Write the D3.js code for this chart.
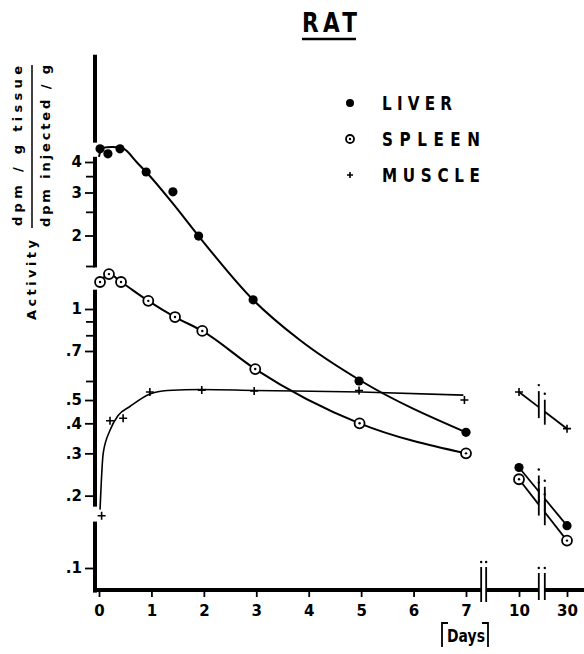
<!DOCTYPE html>
<html>
<head>
<meta charset="utf-8">
<script src="https://cdn.jsdelivr.net/npm/d3@7"></script>
<style>
  body { margin: 0; background: #fff; }
  text { font-family: "DejaVu Sans", sans-serif; font-weight: bold; fill: #000; }
</style>
</head>
<body>
<svg id="chart" width="584" height="654"></svg>
<script>
// ticks
const dayTicks = [0, 1, 2, 3, 4, 5, 6, 7, 10, 30];
const valueTicks = [4, 3, 2, 1, 0.7, 0.5, 0.4, 0.3, 0.2, 0.1];
const minorTicks = [3.5, 2.5, 1.5, 0.9, 0.8, 0.6];

// measured points
const liverDays = [0.02, 0.17, 0.4, 0.9, 1.41, 1.9, 2.94, 4.96, 7.0, 10, 30];
const liverValues = [4.53, 4.32, 4.53, 3.64, 3.02, 1.99, 1.09, 0.6, 0.367, 0.262, 0.15];

const spleenDays = [0.02, 0.19, 0.42, 0.94, 1.45, 1.97, 2.98, 4.97, 7.0, 10, 30];
const spleenValues = [1.29, 1.39, 1.29, 1.08, 0.934, 0.83, 0.638, 0.4, 0.3, 0.234, 0.13];

const muscleDays = [0.05, 0.21, 0.46, 0.97, 1.96, 2.96, 4.96, 6.97, 10, 30];
const muscleValues = [0.165, 0.41, 0.42, 0.54, 0.55, 0.545, 0.548, 0.5, 0.54, 0.38];

// hand drawn curves (days 0-7)
const liverCurveDays = [0, 0.05, 0.25, 0.45, 0.73, 0.9, 1.4, 1.9, 2.94, 3.83, 5, 7];
const liverCurveValues = [4.2, 4.57, 4.61, 4.55, 3.97, 3.64, 2.72, 1.99, 1.09, 0.768, 0.6, 0.367];

const muscleCurveDays = [0.02, 0.08, 0.21, 0.36, 0.59, 0.97, 1.3, 1.96, 2.96, 5, 6.95];
const muscleCurveValues = [0.175, 0.3, 0.374, 0.43, 0.47, 0.53, 0.548, 0.553, 0.548, 0.54, 0.524];

// axis pieces
const yAxisPieces = [[0.079, 0.156], [0.18, 1.2], [1.48, 4.2], [4.8, 11]];
const xBreakDays = [8, 19.5];
const legendLabels = ["LIVER", "SPLEEN", "MUSCLE"];

const svg = d3.select("#chart");

const x = d3.scaleLinear().domain([0, 7, 10, 30]).range([99, 466, 519, 567]);
const y = d3.scaleLog().domain([0.1, 0.6, 0.7, 1, 4]).range([568, 381, 351, 309, 162]);

const axisX = 95, axisY = 590;
const fmt = d => d < 1 ? String(d).slice(1) : String(d);

// narrow lettering like the stencil font of the original
function narrowText(px, py, size, str, width, sx = 0.8, anchor = "start") {
  return svg.append("text")
    .attr("transform", `translate(${px},${py}) scale(${sx},1)`)
    .attr("text-anchor", anchor)
    .attr("textLength", width / sx).attr("lengthAdjust", "spacing")
    .style("font-size", size + "px").text(str);
}

// Y axis
const yMajor = svg.append("g").attr("transform", `translate(${axisX},0)`)
  .call(d3.axisLeft(y).tickValues(valueTicks).tickFormat(fmt).tickSize(10).tickPadding(3));
const yMinor = svg.append("g").attr("transform", `translate(${axisX},0)`)
  .call(d3.axisLeft(y).tickValues(minorTicks).tickFormat("").tickSize(9));
[yMajor, yMinor].forEach(g => {
  g.selectAll(".domain").remove();
  g.selectAll("line").attr("stroke", "#000").attr("stroke-width", 1.8);
  g.selectAll("text").style("font-size", "15px").attr("fill", "#000");
});

svg.append("g").selectAll("line")
  .data(yAxisPieces)
  .join("line")
  .attr("x1", axisX).attr("x2", axisX)
  .attr("y1", d => y(d[0])).attr("y2", d => y(d[1]))
  .attr("stroke", "#000").attr("stroke-width", 4);

// X axis
const xAxisG = svg.append("g").attr("transform", `translate(0,${axisY})`);
xAxisG.call(d3.axisBottom(x).tickValues(dayTicks).tickSize(7).tickPadding(8));
xAxisG.selectAll(".domain").remove();
xAxisG.selectAll("line").attr("stroke", "#000").attr("stroke-width", 1.8);
xAxisG.selectAll("text").style("font-size", "15px").attr("fill", "#000");

const b1 = x(xBreakDays[0]), b2 = x(xBreakDays[1]);
const xPieces = [[axisX - 2, b1 - 2.5], [b1 + 2.5, b2 - 3], [b2 + 3, 584]];
svg.append("g").selectAll("line")
  .data(xPieces)
  .join("line")
  .attr("x1", d => d[0]).attr("x2", d => d[1])
  .attr("y1", axisY).attr("y2", axisY)
  .attr("stroke", "#000").attr("stroke-width", 4);

function axisBreak(cx, top, bottom, half) {
  const g = svg.append("g");
  [cx - half, cx + half].forEach(bx => {
    g.append("line").attr("x1", bx).attr("x2", bx).attr("y1", top).attr("y2", bottom)
      .attr("stroke", "#000").attr("stroke-width", 1.8);
    g.append("circle").attr("cx", bx).attr("cy", top - 5).attr("r", 1.2).attr("fill", "#000");
  });
}
axisBreak(b1, 567, 602, 2.5);
axisBreak(b2, 573, 600, 3);

// curves
const line = d3.line().x(d => x(d[0])).y(d => y(d[1])).curve(d3.curveMonotoneX);
const curves = [
  d3.zip(liverCurveDays, liverCurveValues),
  d3.zip(spleenDays.slice(0, 9), spleenValues.slice(0, 9)),
  d3.zip(muscleCurveDays, muscleCurveValues)
];
svg.append("g").selectAll("path")
  .data(curves)
  .join("path")
  .attr("d", line)
  .attr("fill", "none")
  .attr("stroke", "#000")
  .attr("stroke-width", (d, i) => i === 2 ? 1.6 : 2);

// late segments (10 -> 30) with break marks
function brokenSegment(days, values) {
  const p1 = [x(days[0]), y(values[0])], p2 = [x(days[1]), y(values[1])];
  const ly = px => p1[1] + (p2[1] - p1[1]) * (px - p1[0]) / (p2[0] - p1[0]);
  const l = b2 - 3, r = b2 + 3;
  const g = svg.append("g").attr("stroke", "#000").attr("stroke-width", 1.8);
  g.append("path").attr("d", d3.line()([p1, [l, ly(l)]]));
  g.append("path").attr("d", d3.line()([[r, ly(r)], p2]));
  g.append("line").attr("x1", l).attr("x2", l).attr("y1", ly(l) - 16).attr("y2", ly(l) + 11);
  g.append("line").attr("x1", r).attr("x2", r).attr("y1", ly(r) - 12).attr("y2", ly(r) + 13);
  g.append("circle").attr("cx", l).attr("cy", ly(l) - 22).attr("r", 1.2).attr("fill", "#000").attr("stroke", "none");
  g.append("circle").attr("cx", r).attr("cy", ly(r) - 18).attr("r", 1.2).attr("fill", "#000").attr("stroke", "none");
}
brokenSegment(liverDays.slice(9), liverValues.slice(9));
brokenSegment(spleenDays.slice(9), spleenValues.slice(9));
brokenSegment(muscleDays.slice(8), muscleValues.slice(8));

// markers
function liverMark(sel, r = 4.6) {
  sel.append("circle").attr("r", r).attr("fill", "#000");
}
function spleenMark(sel, r = 5) {
  sel.append("circle").attr("r", r).attr("fill", "#fff").attr("stroke", "#000").attr("stroke-width", 1.8);
  sel.append("circle").attr("r", 1.2).attr("fill", "#000");
}
function muscleMark(sel, s = 4) {
  sel.append("path").attr("d", `M${-s},0H${s}M0,${-s}V${s}`).attr("stroke", "#000").attr("stroke-width", 1.6);
}

svg.append("g").selectAll("g")
  .data(d3.zip(muscleDays, muscleValues))
  .join("g")
  .attr("transform", d => `translate(${x(d[0])},${y(d[1])})`)
  .call(muscleMark);
svg.append("g").selectAll("g")
  .data(d3.zip(spleenDays, spleenValues))
  .join("g")
  .attr("transform", d => `translate(${x(d[0])},${y(d[1])})`)
  .call(spleenMark);
svg.append("g").selectAll("g")
  .data(d3.zip(liverDays, liverValues))
  .join("g")
  .attr("transform", d => `translate(${x(d[0])},${y(d[1])})`)
  .call(liverMark);

// legend
const marks = [sel => liverMark(sel, 4), sel => spleenMark(sel, 4), sel => muscleMark(sel, 3)];
const widths = [70, 98, 98];
legendLabels.forEach((lab, i) => {
  svg.append("g").attr("transform", `translate(350,${103 + i * 36})`).call(marks[i]);
  narrowText(382, 110 + i * 36, 19, lab, widths[i], 0.8);
});

// title
narrowText(302, 32, 27, "RAT", 55, 0.8);
svg.append("line").attr("x1", 302).attr("x2", 356).attr("y1", 39).attr("y2", 39)
  .attr("stroke", "#000").attr("stroke-width", 2.5);

// y label
svg.append("text").attr("transform", "translate(36,280) rotate(-90)")
  .attr("text-anchor", "middle").attr("textLength", 80).attr("lengthAdjust", "spacing")
  .style("font-size", "13px").text("Activity");
svg.append("text").attr("transform", "translate(22,146) rotate(-90)")
  .attr("text-anchor", "middle").attr("textLength", 160).attr("lengthAdjust", "spacing")
  .style("font-size", "13px").text("dpm / g tissue");
svg.append("line").attr("x1", 32).attr("x2", 32).attr("y1", 65).attr("y2", 228)
  .attr("stroke", "#000").attr("stroke-width", 1.5);
svg.append("text").attr("transform", "translate(50,146) rotate(-90)")
  .attr("text-anchor", "middle").attr("textLength", 162).attr("lengthAdjust", "spacing")
  .style("font-size", "13px").text("dpm injected / g");

// x label
narrowText(x(7), 642, 17, "Days", 38, 0.82, "middle");
svg.append("path").attr("d", "M448,623H442V647M482,623H488V647")
  .attr("fill", "none").attr("stroke", "#000").attr("stroke-width", 1.8);
</script>
</body>
</html>
